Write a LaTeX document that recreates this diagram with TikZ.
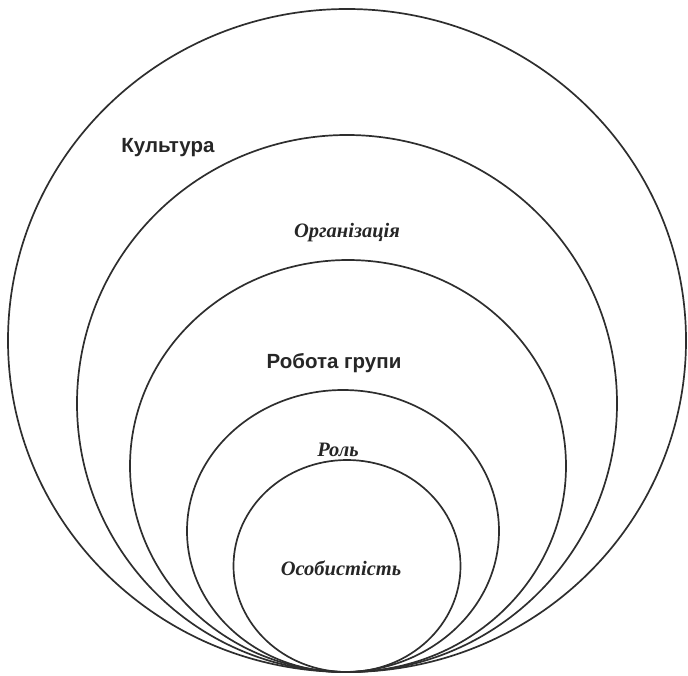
\documentclass[tikz,border=0pt]{standalone}
\usepackage{fontspec}
\setmainfont{Liberation Serif}
\setsansfont{Liberation Sans}

\begin{document}
\begin{tikzpicture}[x=1pt, y=-1pt,
ring/.style={line width=1.7pt, draw=black!82},
sanslabel/.style={font=\sffamily\bfseries\fontsize{20.5}{22}\selectfont, text=black!85, inner sep=1pt},
seriflabel/.style={font=\rmfamily\bfseries\itshape\fontsize{20.5}{22}\selectfont, text=black!85, inner sep=1pt}
]
\useasboundingbox (0,0) rectangle (688,675);

% nested rings, all touching at the bottom
\draw[ring] (347,340.5) ellipse [x radius=339pt, y radius=331.5pt];
\draw[ring] (347,403.5) ellipse [x radius=270pt, y radius=268.5pt];
\draw[ring] (348,466) ellipse [x radius=218pt, y radius=206pt];
\draw[ring] (343,531) ellipse [x radius=156pt, y radius=141pt];
\draw[ring] (347,566) ellipse [x radius=113.5pt, y radius=106pt];

\node[sanslabel] (kultura) at (168,148) {Культура};
\node[seriflabel] (orhanizatsiia) at (347,233) {Організація};
\node[sanslabel] (robota) at (334,363) {Робота групи};
\node[seriflabel] (rol) at (338,450) {Роль};
\node[seriflabel] (osobystist) at (341,568) {Особистість};
\end{tikzpicture}
\end{document}
